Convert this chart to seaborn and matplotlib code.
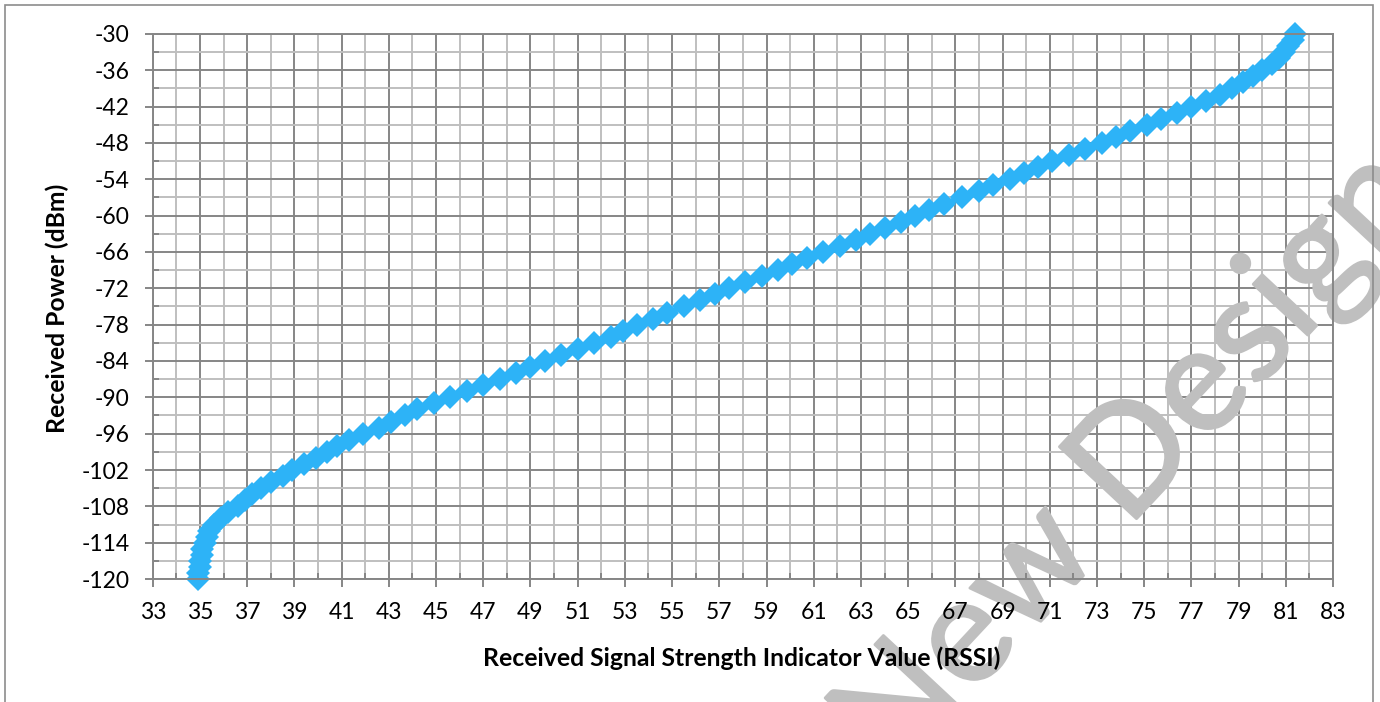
import numpy as np
import pandas as pd
import matplotlib
matplotlib.use("Agg")
import matplotlib.pyplot as plt
import matplotlib.patheffects as pe
import seaborn as sns
from matplotlib.ticker import FixedLocator, MultipleLocator
from matplotlib.patches import Rectangle

# ---------------- data ----------------
power_dbm = list(range(-120, -29))
rssi = [
    34.9, 34.9, 35.0, 35.0, 35.1, 35.1, 35.2, 35.3, 35.4, 35.6,   # -120 .. -111
    35.9, 36.2, 36.6, 36.9, 37.2, 37.6, 38.0, 38.5, 38.9, 39.4,   # -110 .. -101
    39.9, 40.4, 40.8, 41.3, 41.9, 42.6, 43.1, 43.7, 44.2, 44.9,   # -100 .. -91
    45.6, 46.3, 47.0, 47.7, 48.4, 49.0, 49.6, 50.3, 51.0, 51.7,   # -90 .. -81
    52.4, 52.9, 53.5, 54.2, 54.8, 55.5, 56.2, 56.8, 57.4, 58.1,   # -80 .. -71
    58.8, 59.5, 60.1, 60.7, 61.4, 62.1, 62.8, 63.4, 64.0, 64.7,   # -70 .. -61
    65.3, 65.9, 66.5, 67.3, 68.0, 68.6, 69.3, 69.9, 70.5, 71.1,   # -60 .. -51
    71.8, 72.5, 73.2, 73.8, 74.4, 75.1, 75.7, 76.4, 77.0, 77.6,   # -50 .. -41
    78.2, 78.7, 79.2, 79.6, 80.0, 80.4, 80.7, 80.9, 81.1, 81.3,   # -40 .. -31
    81.4,                                                         # -30
]
x_ticks = list(range(33, 84, 2))
y_ticks = list(range(-120, -29, 6))
x_label = "Received Signal Strength Indicator Value (RSSI)"
y_label = "Received Power (dBm)"
watermark = "New Designs"

df = pd.DataFrame({"RSSI": rssi, "Power": power_dbm})

# ---------------- styling ----------------
sns.set_theme(style="white")
plt.rcParams["font.family"] = ["Lato", "DejaVu Sans"]
plt.rcParams["axes.unicode_minus"] = False

MAJOR = "#868686"
MINOR = "#BFBFBF"
BLUE = "#2DB3F7"
WM = "#BFBFBF"

fig = plt.figure(figsize=(13.8, 7.02), dpi=100)
fig.patch.set_facecolor("white")
pos = [0.1107, 0.1752, 0.8553, 0.7764]

# background axes: grid only
ax_bg = fig.add_axes(pos, zorder=0)
ax_bg.set_xlim(33, 83)
ax_bg.set_ylim(-120, -30)
ax_bg.xaxis.set_major_locator(FixedLocator(x_ticks))
ax_bg.yaxis.set_major_locator(FixedLocator(y_ticks))
ax_bg.xaxis.set_minor_locator(MultipleLocator(1))
ax_bg.yaxis.set_minor_locator(MultipleLocator(3))
ax_bg.grid(which="minor", color=MINOR, lw=1.4)
ax_bg.grid(which="major", color=MAJOR, lw=1.4)
ax_bg.tick_params(which="both", length=0, labelbottom=False, labelleft=False)
for s in ax_bg.spines.values():
    s.set_visible(False)
ax_bg.set_facecolor("white")

# watermark between grid and foreground
fig.text(0.837, 0.374, watermark, rotation=47, rotation_mode="anchor",
         ha="center", va="center", fontsize=106, fontweight="normal",
         color=WM, zorder=1,
         path_effects=[pe.withStroke(linewidth=2, foreground=WM)])

# foreground axes: data, ticks, labels
ax = fig.add_axes(pos, zorder=2)
ax.set_facecolor("none")
sns.lineplot(data=df, x="RSSI", y="Power", ax=ax, sort=False, estimator=None,
             color=BLUE, lw=4, marker="D", markersize=12.5,
             markeredgecolor=BLUE, markeredgewidth=0, clip_on=False)
ax.set_xlim(33, 83)
ax.set_ylim(-120, -30)
ax.xaxis.set_major_locator(FixedLocator(x_ticks))
ax.yaxis.set_major_locator(FixedLocator(y_ticks))
ax.xaxis.set_minor_locator(MultipleLocator(1))
ax.yaxis.set_minor_locator(MultipleLocator(3))
ax.tick_params(which="major", direction="out", length=5.5, width=1.4,
               color=MAJOR, labelsize=16.5, labelcolor="black",
               bottom=True, left=True)
ax.tick_params(axis="y", which="major", pad=11)
ax.tick_params(axis="x", which="major", pad=11)
ax.tick_params(which="minor", direction="in", length=4, width=1.4,
               color=MAJOR, bottom=True, left=True)
for s in ax.spines.values():
    s.set_visible(True)
    s.set_color(MAJOR)
    s.set_linewidth(1.4)

ax.set_xlabel(x_label, fontsize=17.8, fontweight="bold", color="black")
ax.set_ylabel(y_label, fontsize=17.8, fontweight="bold", color="black")
ax.xaxis.set_label_coords(0.4993, -0.145)
ax.xaxis.label.set_va("center")
ax.yaxis.set_label_coords(-0.0811, 0.497)
ax.yaxis.label.set_va("center")

# outer chart border
fig.patches.append(Rectangle((5 / 1380, -0.02), 1368 / 1380, 1.02 - 5 / 702,
                             transform=fig.transFigure, fill=False,
                             edgecolor="#8C8C8C", lw=1.2, zorder=5))

fig.savefig("out.png", dpi=100, facecolor="white")
